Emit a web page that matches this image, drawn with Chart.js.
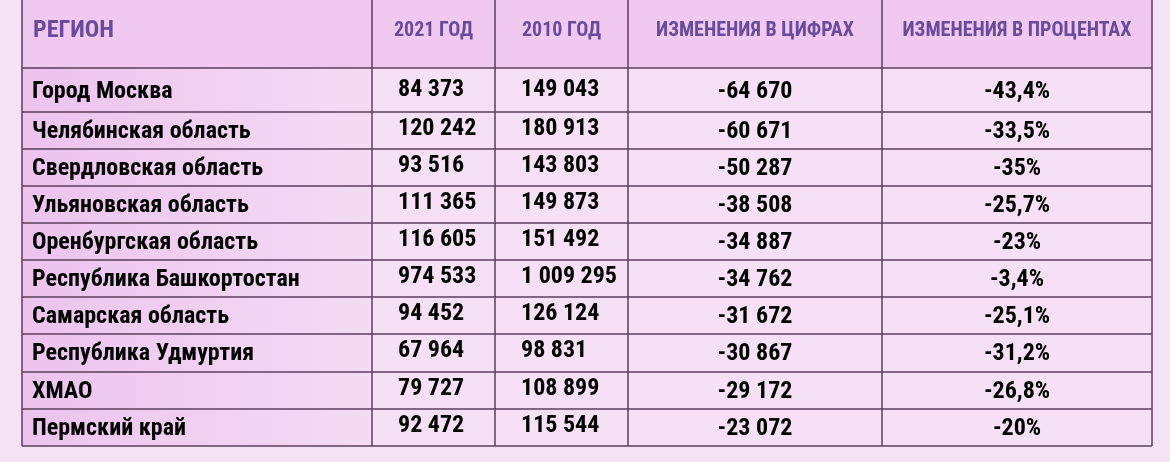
<!DOCTYPE html>
<html>
<head>
<meta charset="utf-8">
<script src="https://cdn.jsdelivr.net/npm/chart.js@4"></script>
<style>
  html, body { margin: 0; padding: 0; background: #f4e3f5; }
  #wrap { width: 1170px; height: 462px; position: relative; }
</style>
</head>
<body>
<div id="wrap"><canvas id="tbl"></canvas></div>
<script>
(function () {
  const headers = ['РЕГИОН', '2021 ГОД', '2010 ГОД', 'ИЗМЕНЕНИЯ В ЦИФРАХ', 'ИЗМЕНЕНИЯ В ПРОЦЕНТАХ'];
  const regions = ['Город Москва', 'Челябинская область', 'Свердловская область', 'Ульяновская область',
    'Оренбургская область', 'Республика Башкортостан', 'Самарская область', 'Республика Удмуртия',
    'ХМАО', 'Пермский край'];
  const year2021 = ['84 373', '120 242', '93 516', '111 365', '116 605', '974 533', '94 452', '67 964', '79 727', '92 472'];
  const year2010 = ['149 043', '180 913', '143 803', '149 873', '151 492', '1 009 295', '126 124', '98 831', '108 899', '115 544'];
  const changeAbs = ['-64 670', '-60 671', '-50 287', '-38 508', '-34 887', '-34 762', '-31 672', '-30 867', '-29 172', '-23 072'];
  const changePct = ['-43,4%', '-33,5%', '-35%', '-25,7%', '-23%', '-3,4%', '-25,1%', '-31,2%', '-26,8%', '-20%'];

  // table grid in scale units
  const colEdges = [22, 372, 495, 628, 882, 1152];
  const rowEdges = [0, 68, 112, 149, 186, 223, 260, 297, 334, 372, 409, 446];

  const columns = [regions, year2021, year2010, changeAbs, changePct];
  const FONT = '"Liberation Sans Narrow", "Arial Narrow", "Roboto Condensed", "Liberation Sans", sans-serif';

  const tablePlugin = {
    id: 'tablePlugin',
    beforeDatasetsDraw(chart) {
      const ctx = chart.ctx;
      const xs = chart.scales.x, ys = chart.scales.y;
      const X = v => xs.getPixelForValue(v);
      const Y = v => ys.getPixelForValue(v);

      // cell backgrounds
      for (let r = 0; r < rowEdges.length - 1; r++) {
        for (let c = 0; c < colEdges.length - 1; c++) {
          const x0 = X(colEdges[c]), x1 = X(colEdges[c + 1]);
          const y0 = Y(rowEdges[r]), y1 = Y(rowEdges[r + 1]);
          if (r === 0) {
            ctx.fillStyle = '#efc9f0';
          } else if (c === 0) {
            const g = ctx.createLinearGradient(x0, 0, x1, 0);
            g.addColorStop(0, '#ecc3ee');
            g.addColorStop(1, '#f4dcf4');
            ctx.fillStyle = g;
          } else {
            ctx.fillStyle = '#f5e0f6';
          }
          ctx.fillRect(x0, y0, x1 - x0, y1 - y0);
        }
      }

      // grid lines
      ctx.strokeStyle = '#5c3f5e';
      ctx.lineWidth = 1.5;
      ctx.beginPath();
      colEdges.forEach(cx => { ctx.moveTo(X(cx), Y(rowEdges[0])); ctx.lineTo(X(cx), Y(rowEdges[rowEdges.length - 1])); });
      rowEdges.slice(1).forEach(ry => { ctx.moveTo(X(colEdges[0]), Y(ry)); ctx.lineTo(X(colEdges[colEdges.length - 1]), Y(ry)); });
      ctx.stroke();

      // header text
      ctx.textBaseline = 'middle';
      ctx.fillStyle = '#6a4a9c';
      headers.forEach((h, c) => {
        const yMid = Y(31);
        if (c === 0) {
          ctx.font = 'bold 24px ' + FONT;
          ctx.textAlign = 'left';
          ctx.fillText(h, X(colEdges[0] + 11), yMid);
        } else {
          ctx.font = 'bold 20px ' + FONT;
          ctx.textAlign = 'center';
          ctx.fillText(h, X((colEdges[c] + colEdges[c + 1]) / 2), yMid);
        }
      });

      // body text
      ctx.fillStyle = '#000';
      ctx.font = 'bold 24px ' + FONT;
      columns.forEach((vals, c) => {
        vals.forEach((v, r) => {
          const yMid = Y((rowEdges[r + 1] + rowEdges[r + 2]) / 2 + (r === 0 ? 2 : 1));
          if (c === 0) {
            ctx.textAlign = 'left';
            ctx.fillText(v, X(colEdges[0] + 10), yMid);
          } else if (c === 1 || c === 2) {
            ctx.textAlign = 'left';
            ctx.fillText(v, X(colEdges[c] + 26), Y((rowEdges[r + 1] + rowEdges[r + 2]) / 2 - 2 + (r === 0 ? 2 : 0)));
          } else {
            ctx.textAlign = 'center';
            ctx.fillText(v, X((colEdges[c] + colEdges[c + 1]) / 2), yMid);
          }
        });
      });
    }
  };

  new Chart(document.getElementById('tbl'), {
    type: 'scatter',
    data: { datasets: [{ data: [], pointRadius: 0 }] },
    options: {
      responsive: true,
      maintainAspectRatio: false,
      animation: false,
      layout: { padding: 0 },
      plugins: { legend: { display: false }, tooltip: { enabled: false } },
      scales: {
        x: { type: 'linear', min: 0, max: 1170, display: false },
        y: { type: 'linear', min: 0, max: 462, reverse: true, display: false }
      }
    },
    plugins: [tablePlugin]
  });
})();
</script>
</body>
</html>
